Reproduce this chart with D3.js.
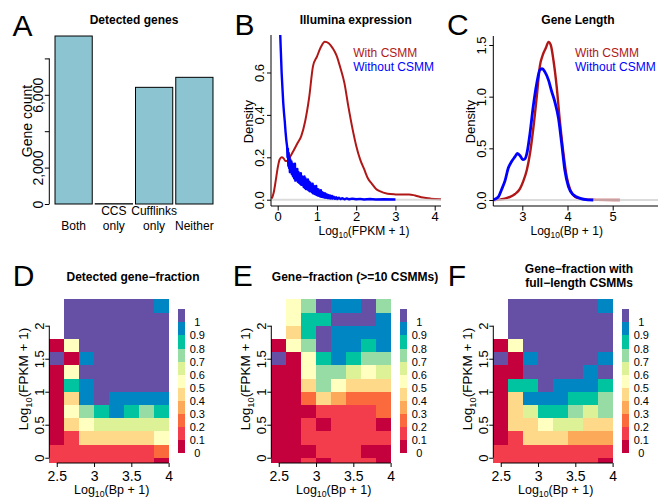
<!DOCTYPE html>
<html>
<head>
<meta charset="utf-8">
<script src="https://cdn.jsdelivr.net/npm/d3@7"></script>
<style>
  body { margin: 0; background: #fff; }
  svg { display: block; font-family: "Liberation Sans", Arial, Helvetica, sans-serif; }
</style>
</head>
<body>
<svg id="fig" width="658" height="498"></svg>
<script>
// ---- panel A : detected genes ----
const geneGroups = ["Both", "CCS\nonly", "Cufflinks\nonly", "Neither"];
const geneCounts = [9230, 15, 6410, 6960];
const countTicks = [0, 2000, 4000, 6000, 8000];
const countLabels = ["0", "2,000", "", "6,000", ""];

// ---- panel B : illumina expression densities, [log10(FPKM+1), density] ----
const fpkmWith = [[-0.15,0.005],[-0.1,0.035],[-0.05,0.09],[0,0.15],[0.05,0.19],[0.1,0.2],[0.15,0.195],
  [0.2,0.182],[0.25,0.183],[0.3,0.197],[0.4,0.23],[0.5,0.265],[0.6,0.3],[0.7,0.37],[0.8,0.48],
  [0.9,0.63],[1.0,0.675],[1.1,0.72],[1.2,0.745],[1.3,0.738],[1.4,0.715],[1.5,0.68],[1.6,0.62],
  [1.7,0.55],[1.8,0.44],[1.9,0.34],[2.0,0.255],[2.1,0.19],[2.2,0.145],[2.3,0.1],[2.4,0.075],
  [2.5,0.052],[2.6,0.04],[2.8,0.028],[3.0,0.025],[3.2,0.024],[3.35,0.025],[3.5,0.02],[3.7,0.01],
  [3.9,0.005],[4.2,0.002]];
const fpkmWithout = [[0.06,0.80],[0.08,0.70],[0.10,0.60],[0.12,0.53],[0.14,0.46],[0.16,0.41],[0.18,0.37],
  [0.20,0.32],[0.22,0.28],[0.24,0.25],[0.25,0.20],[0.26,0.24],[0.27,0.16],[0.28,0.22],[0.29,0.15],
  [0.30,0.20],[0.31,0.13],[0.32,0.19],[0.33,0.14],[0.35,0.18],[0.36,0.12],[0.38,0.17],[0.39,0.11],
  [0.41,0.16],[0.42,0.10],[0.44,0.17],[0.45,0.09],[0.47,0.14],[0.48,0.10],[0.50,0.145],[0.51,0.085],
  [0.53,0.13],[0.54,0.08],[0.56,0.12],[0.57,0.075],[0.59,0.125],[0.60,0.07],[0.62,0.11],[0.63,0.07],
  [0.65,0.105],[0.66,0.06],[0.68,0.11],[0.69,0.055],[0.71,0.10],[0.72,0.05],[0.74,0.09],[0.75,0.05],
  [0.77,0.095],[0.78,0.045],[0.80,0.085],[0.81,0.04],[0.83,0.08],[0.84,0.04],[0.86,0.07],[0.87,0.035],
  [0.89,0.075],[0.90,0.03],[0.92,0.065],[0.93,0.028],[0.95,0.06],[0.96,0.025],[0.98,0.065],[0.99,0.022],
  [1.01,0.05],[1.02,0.02],[1.04,0.048],[1.05,0.018],[1.07,0.04],[1.08,0.015],[1.10,0.045],[1.11,0.014],
  [1.13,0.035],[1.15,0.012],[1.17,0.032],[1.19,0.01],[1.21,0.03],[1.23,0.009],[1.25,0.025],[1.27,0.008],
  [1.29,0.022],[1.31,0.007],[1.33,0.02],[1.35,0.006],[1.38,0.018],[1.40,0.005],[1.43,0.014],[1.46,0.004],
  [1.49,0.012],[1.52,0.003],[1.56,0.009],[1.60,0.003],[1.65,0.007],[1.70,0.002],[1.76,0.006],[1.82,0.002],
  [1.90,0.005],[2.0,0.002],[2.1,0.004],[2.2,0.001],[2.35,0.003],[2.5,0.001],[2.7,0.002],[3.0,0.001]];

// ---- panel C : gene length densities, [log10(bp+1), density] ----
const lenWith = [[2.37,0],[2.5,0.004],[2.58,0.01],[2.66,0.02],[2.73,0.03],[2.84,0.058],[2.95,0.11],
  [3.02,0.18],[3.1,0.29],[3.17,0.45],[3.24,0.68],[3.32,1.0],[3.39,1.3],[3.45,1.4],[3.52,1.47],
  [3.58,1.53],[3.63,1.5],[3.69,1.35],[3.76,1.1],[3.83,0.77],[3.91,0.45],[3.98,0.23],[4.06,0.1],
  [4.17,0.03],[4.35,0.006],[4.65,0.001],[5.16,0]];
const lenWithout = [[2.33,0.003],[2.4,0.01],[2.47,0.03],[2.54,0.1],[2.62,0.19],[2.69,0.31],[2.76,0.37],
  [2.84,0.42],[2.89,0.45],[2.95,0.43],[3.01,0.39],[3.06,0.40],[3.11,0.47],[3.17,0.645],[3.24,0.9],
  [3.32,1.13],[3.39,1.26],[3.44,1.27],[3.5,1.24],[3.58,1.16],[3.65,1.05],[3.72,0.95],[3.8,0.79],
  [3.87,0.55],[3.94,0.29],[4.02,0.13],[4.13,0.05],[4.28,0.016],[4.45,0.002],[4.57,0]];

// ---- panels D-F : gene fractions per (length, expression) bin ----
const lenEdges = [2.4, 2.6, 2.8, 3.0, 3.2, 3.4, 3.6, 3.8, 4.0];
const fpkmEdges = [2.4, 2.2, 2.0, 1.8, 1.6, 1.4, 1.2, 1.0, 0.8, 0.6, 0.4, 0.2, 0, -0.08];   // rows top to bottom
const fracBreaks = [0.1, 0.2, 0.3, 0.4, 0.5, 0.6, 0.7, 0.8, 0.9, 1.0];
const fracLabels = ["0", "0.1", "0.2", "0.3", "0.4", "0.5", "0.6", "0.7", "0.8", "0.9", "1"];
const spectral = ["#c4003d", "#f33d4d", "#fa6a3c", "#fcaa5a", "#fed98a", "#ffffbf",
                  "#ddf297", "#98dca5", "#00c4a0", "#0087c3", "#6650a6"];

const detectedFrac = [
  [null,1,1,1,1,1,1,.95],
  [null,1,1,1,1,1,1,1],
  [null,1,1,1,1,1,1,1],
  [.05,.55,1,1,1,1,1,1],
  [1,.05,.95,1,1,1,1,1],
  [.05,.55,1,1,1,1,1,1],
  [.05,.85,.95,1,1,1,1,1],
  [.05,.45,.95,1,.95,.95,.95,.95],
  [.05,.55,.75,.85,.95,.85,.75,.85],
  [.05,.45,.55,.65,.65,.65,.65,.65],
  [.05,.15,.45,.45,.45,.45,.45,.55],
  [.15,.15,.15,.15,.15,.15,.15,.25],
  [.15,.15,.15,.15,.15,.15,.15,.05]];
const tenCsmmFrac = [
  [null,.55,.75,1,.95,.95,1,.75],
  [null,.55,.85,.85,1,1,1,.95],
  [null,.45,.85,1,.95,.95,.95,.95],
  [.05,.55,.75,1,.95,.95,.85,.95],
  [1,.05,.55,.85,.95,.85,.75,.75],
  [.05,.05,.55,.75,.75,.65,.55,.65],
  [.05,.05,.45,.75,.55,.45,.45,.45],
  [.05,.05,.25,.45,.35,.25,.25,.25],
  [.05,.05,.05,.15,.15,.15,.15,.25],
  [.05,.05,.15,.05,.15,.15,.15,.05],
  [.05,.05,.15,.15,.15,.15,.15,.15],
  [.05,.05,.05,.15,.15,.15,.05,.05],
  [.05,.05,.15,.05,.15,.15,.15,.05]];
const fullLengthFrac = [
  [null,1,1,1,1,1,1,.95],
  [null,1,1,1,1,1,1,1],
  [null,1,1,1,1,1,1,1],
  [.05,.55,1,1,1,1,1,1],
  [1,.05,.95,1,1,1,1,.95],
  [.05,.05,1,1,1,1,.95,1],
  [.05,.85,.85,1,.95,.95,.95,.85],
  [.05,.45,.95,.95,.95,.85,.85,.75],
  [.05,.45,.65,.85,.85,.75,.65,.75],
  [.05,.45,.45,.55,.65,.65,.45,.45],
  [.05,.15,.45,.45,.45,.35,.35,.35],
  [.15,.15,.15,.15,.15,.15,.15,.15],
  [.15,.15,.15,.15,.15,.15,.15,.05]];

const svg = d3.select("#fig");
const RED = "#b01818", BLUE = "#0000ff";

function letter(x, y, t) {
  svg.append("text").attr("x", x).attr("y", y).attr("font-size", 30).text(t);
}
function title(x, y, t) {
  svg.append("text").attr("x", x).attr("y", y).attr("text-anchor", "middle")
    .attr("font-size", 12).attr("font-weight", "bold").text(t);
}
function logLabel(text, inner, size) {
  text.attr("font-size", size);
  text.append("tspan").text("Log");
  text.append("tspan").attr("font-size", size * 0.7).attr("dy", size * 0.3).text("10");
  text.append("tspan").attr("dy", -size * 0.3).text("(" + inner + ")");
}
function cleanAxis(g, size) {
  g.attr("font-family", null).attr("font-size", size);
  g.select(".domain").remove();
}
function rotateTicks(g, off) {
  g.selectAll(".tick text").attr("transform", "rotate(-90)")
    .attr("x", 0).attr("y", -off).attr("dy", null).attr("text-anchor", "middle");
}

// ================= A =================
letter(12.5, 36, "A");
title(134, 24, "Detected genes");
const xA = d3.scaleBand().domain(geneGroups).range([53.5, 214.5]).paddingInner(0.075).paddingOuter(0.0375);
const yA = d3.scaleLinear().domain([0, 8000]).range([204, 58.4]);
const barData = geneGroups.map((g, i) => ({ g, n: geneCounts[i] }));
svg.append("g").selectAll("rect").data(barData).join("rect")
  .attr("x", d => xA(d.g)).attr("width", xA.bandwidth())
  .attr("y", d => yA(d.n)).attr("height", d => yA(0) - yA(d.n))
  .attr("fill", "#8cc4d2").attr("stroke", "#000").attr("stroke-width", 1);
svg.append("g").attr("transform", "translate(49.3,0)")
  .call(d3.axisLeft(yA).tickValues(countTicks).tickFormat((d, i) => countLabels[i]).tickSize(4.5))
  .call(g => cleanAxis(g, 14))
  .call(g => rotateTicks(g, 6));
svg.append("line").attr("x1", 49.3).attr("x2", 49.3).attr("y1", yA(0)).attr("y2", yA(8000)).attr("stroke", "#000");
svg.append("text").attr("transform", "translate(31.5,121) rotate(-90)").attr("text-anchor", "middle")
  .attr("font-size", 14).text("Gene count");
barData.forEach(d => {
  const lines = d.g.split("\n");
  lines.forEach((l, k) => {
    svg.append("text").attr("x", xA(d.g) + xA.bandwidth() / 2)
      .attr("y", 229.5 - (lines.length - 1 - k) * 14.5)
      .attr("text-anchor", "middle").attr("font-size", 12).text(l);
  });
});

// ================= B & C density panels =================
function densityPanel(o) {
  const clipId = "clip" + o.id;
  svg.append("clipPath").attr("id", clipId).append("rect")
    .attr("x", o.box.l).attr("y", o.box.t).attr("width", o.box.r - o.box.l).attr("height", o.box.b - o.box.t);
  const line = d3.line().x(d => o.x(d[0])).y(d => o.y(d[1]));
  const plot = svg.append("g").attr("clip-path", `url(#${clipId})`);
  plot.append("path").datum(o.withData)
    .attr("d", line.curve(d3.curveMonotoneX)).attr("fill", "none")
    .attr("stroke", RED).attr("stroke-width", o.redW).attr("stroke-linejoin", "round");
  plot.append("line").attr("x1", o.box.l).attr("x2", o.box.r).attr("y1", o.y(0)).attr("y2", o.y(0))
    .attr("stroke", "#cfcfcf").attr("stroke-width", 2).attr("opacity", 0.75);
  plot.append("path").datum(o.withoutData)
    .attr("d", line.curve(o.blueCurve)).attr("fill", "none")
    .attr("stroke", BLUE).attr("stroke-width", o.blueW).attr("stroke-linejoin", "round");

  // L-shaped frame
  svg.append("path").attr("d", `M${o.box.l},${o.box.t}V${o.box.b}H${o.box.r}`)
    .attr("fill", "none").attr("stroke", "#000");
  svg.append("g").attr("transform", `translate(0,${o.box.b})`)
    .call(d3.axisBottom(o.x).tickValues(o.xTicks).tickFormat(d3.format("d")).tickSize(4.5))
    .call(g => cleanAxis(g, 13))
    .call(g => g.selectAll(".tick text").attr("y", 15).attr("dy", null));
  svg.append("g").attr("transform", `translate(${o.box.l},0)`)
    .call(d3.axisLeft(o.y).tickValues(o.yTicks).tickFormat(d3.format(".1f")).tickSize(4))
    .call(g => cleanAxis(g, 13))
    .call(g => rotateTicks(g, 7.5));
  svg.append("text").attr("transform", `translate(${o.box.l - 18.5},121.7) rotate(-90)`)
    .attr("text-anchor", "middle").attr("font-size", 13).text("Density");
  logLabel(svg.append("text").attr("x", o.xTitle).attr("y", 234.6).attr("text-anchor", "middle"), o.inner, 12);
  title(o.titleX, 23.5, o.title);
  svg.append("text").attr("x", o.legX).attr("y", 56.5).attr("font-size", 12).attr("fill", RED).text("With CSMM");
  svg.append("text").attr("x", o.legX).attr("y", 71.3).attr("font-size", 12).attr("fill", BLUE).text("Without CSMM");
}

letter(234.5, 35, "B");
densityPanel({
  id: "B", box: { l: 271, r: 441, t: 35, b: 206 },
  x: d3.scaleLinear().domain([0, 4]).range([277.7, 434.7]),
  y: d3.scaleLinear().domain([0, 0.6]).range([199.7, 72.5]),
  withData: fpkmWith, withoutData: fpkmWithout, blueCurve: d3.curveLinear,
  redW: 2, blueW: 2.4,
  xTicks: [0, 1, 2, 3, 4], yTicks: [0, 0.2, 0.4, 0.6],
  xTitle: 364, inner: "FPKM + 1", title: "Illumina expression", titleX: 355.7, legX: 353.3
});

letter(447, 35, "C");
densityPanel({
  id: "C", box: { l: 493.3, r: 658, t: 36, b: 206 },
  x: d3.scaleLinear().domain([3, 5]).range([522.3, 612.7]),
  y: d3.scaleLinear().domain([0, 1.5]).range([200, 45]),
  withData: lenWith, withoutData: lenWithout, blueCurve: d3.curveMonotoneX,
  redW: 2.4, blueW: 2.8,
  xTicks: [3, 4, 5], yTicks: [0, 0.5, 1, 1.5],
  xTitle: 566.7, inner: "Bp + 1", title: "Gene Length", titleX: 578, legX: 575
});

// ================= D, E, F heatmaps =================
const fracColor = d3.scaleThreshold().domain(fracBreaks).range(spectral);

function heatmap(ox, grid, titleLines, titleX) {
  const x = d3.scaleLinear().domain([2.4, 4.0]).range([ox, ox + 119.3]);
  const y = d3.scaleLinear().domain([-0.08, 2.4]).range([463, 299.3]);
  const cells = [];
  grid.forEach((row, i) => row.forEach((v, j) => { if (v !== null) cells.push({ i, j, v }); }));
  svg.append("g").attr("shape-rendering", "crispEdges")
    .selectAll("rect").data(cells).join("rect")
    .attr("x", d => x(lenEdges[d.j]))
    .attr("width", d => x(lenEdges[d.j + 1]) - x(lenEdges[d.j]))
    .attr("y", d => y(fpkmEdges[d.i]))
    .attr("height", d => y(fpkmEdges[d.i + 1]) - y(fpkmEdges[d.i]))
    .attr("fill", d => fracColor(d.v));

  // axes
  svg.append("g").attr("transform", `translate(${ox},0)`)
    .call(d3.axisLeft(y).tickValues([0, 0.5, 1, 1.5, 2]).tickFormat(d3.format("")).tickSize(4))
    .call(g => cleanAxis(g, 13))
    .call(g => rotateTicks(g, 5.5));
  svg.append("line").attr("x1", ox).attr("x2", ox).attr("y1", y(0)).attr("y2", y(2)).attr("stroke", "#000");
  svg.append("g").attr("transform", "translate(0,463)")
    .call(d3.axisBottom(x).tickValues([2.5, 3, 3.5, 4]).tickFormat(d3.format("")).tickSize(4))
    .call(g => cleanAxis(g, 14))
    .call(g => g.selectAll(".tick text").attr("y", 17.7).attr("dy", null));
  svg.append("line").attr("x1", x(2.5)).attr("x2", x(4)).attr("y1", 463).attr("y2", 463).attr("stroke", "#000");

  const yt = svg.append("text").attr("transform", `translate(${ox - 21},379) rotate(-90)`).attr("text-anchor", "middle");
  logLabel(yt, "FPKM + 1", 13.5);
  logLabel(svg.append("text").attr("x", ox + 62.4).attr("y", 493.5).attr("text-anchor", "middle"), "Bp + 1", 12.5);

  // colour key
  const cb = d3.scaleLinear().domain([0, 1.1]).range([453.3, 309.3]);
  const keys = fracLabels.map((l, k) => ({ l, k }));
  svg.append("g").attr("shape-rendering", "crispEdges")
    .selectAll("rect").data(keys).join("rect")
    .attr("x", ox + 129).attr("width", 6.7)
    .attr("y", d => cb((d.k + 1) / 10)).attr("height", d => cb(d.k / 10) - cb((d.k + 1) / 10))
    .attr("fill", d => spectral[d.k]);
  svg.append("g").selectAll("text").data(keys).join("text")
    .attr("x", ox + 148).attr("y", d => cb(d.k / 10) + 4)
    .attr("text-anchor", "middle").attr("font-size", 11).text(d => d.l);

  if (titleLines.length === 1) title(titleX, 280.5, titleLines[0]);
  else titleLines.forEach((t, k) => title(titleX, 272.5 + k * 14, t));
}

letter(12.8, 286, "D");
heatmap(49.3, detectedFrac, ["Detected gene\u2212fraction"], 133);
letter(232.7, 286, "E");
heatmap(271.3, tenCsmmFrac, ["Gene\u2212fraction (>=10 CSMMs)"], 355);
letter(447.7, 286, "F");
heatmap(493.3, fullLengthFrac, ["Gene\u2212fraction with", "full\u2212length CSMMs"], 579);
</script>
</body>
</html>
